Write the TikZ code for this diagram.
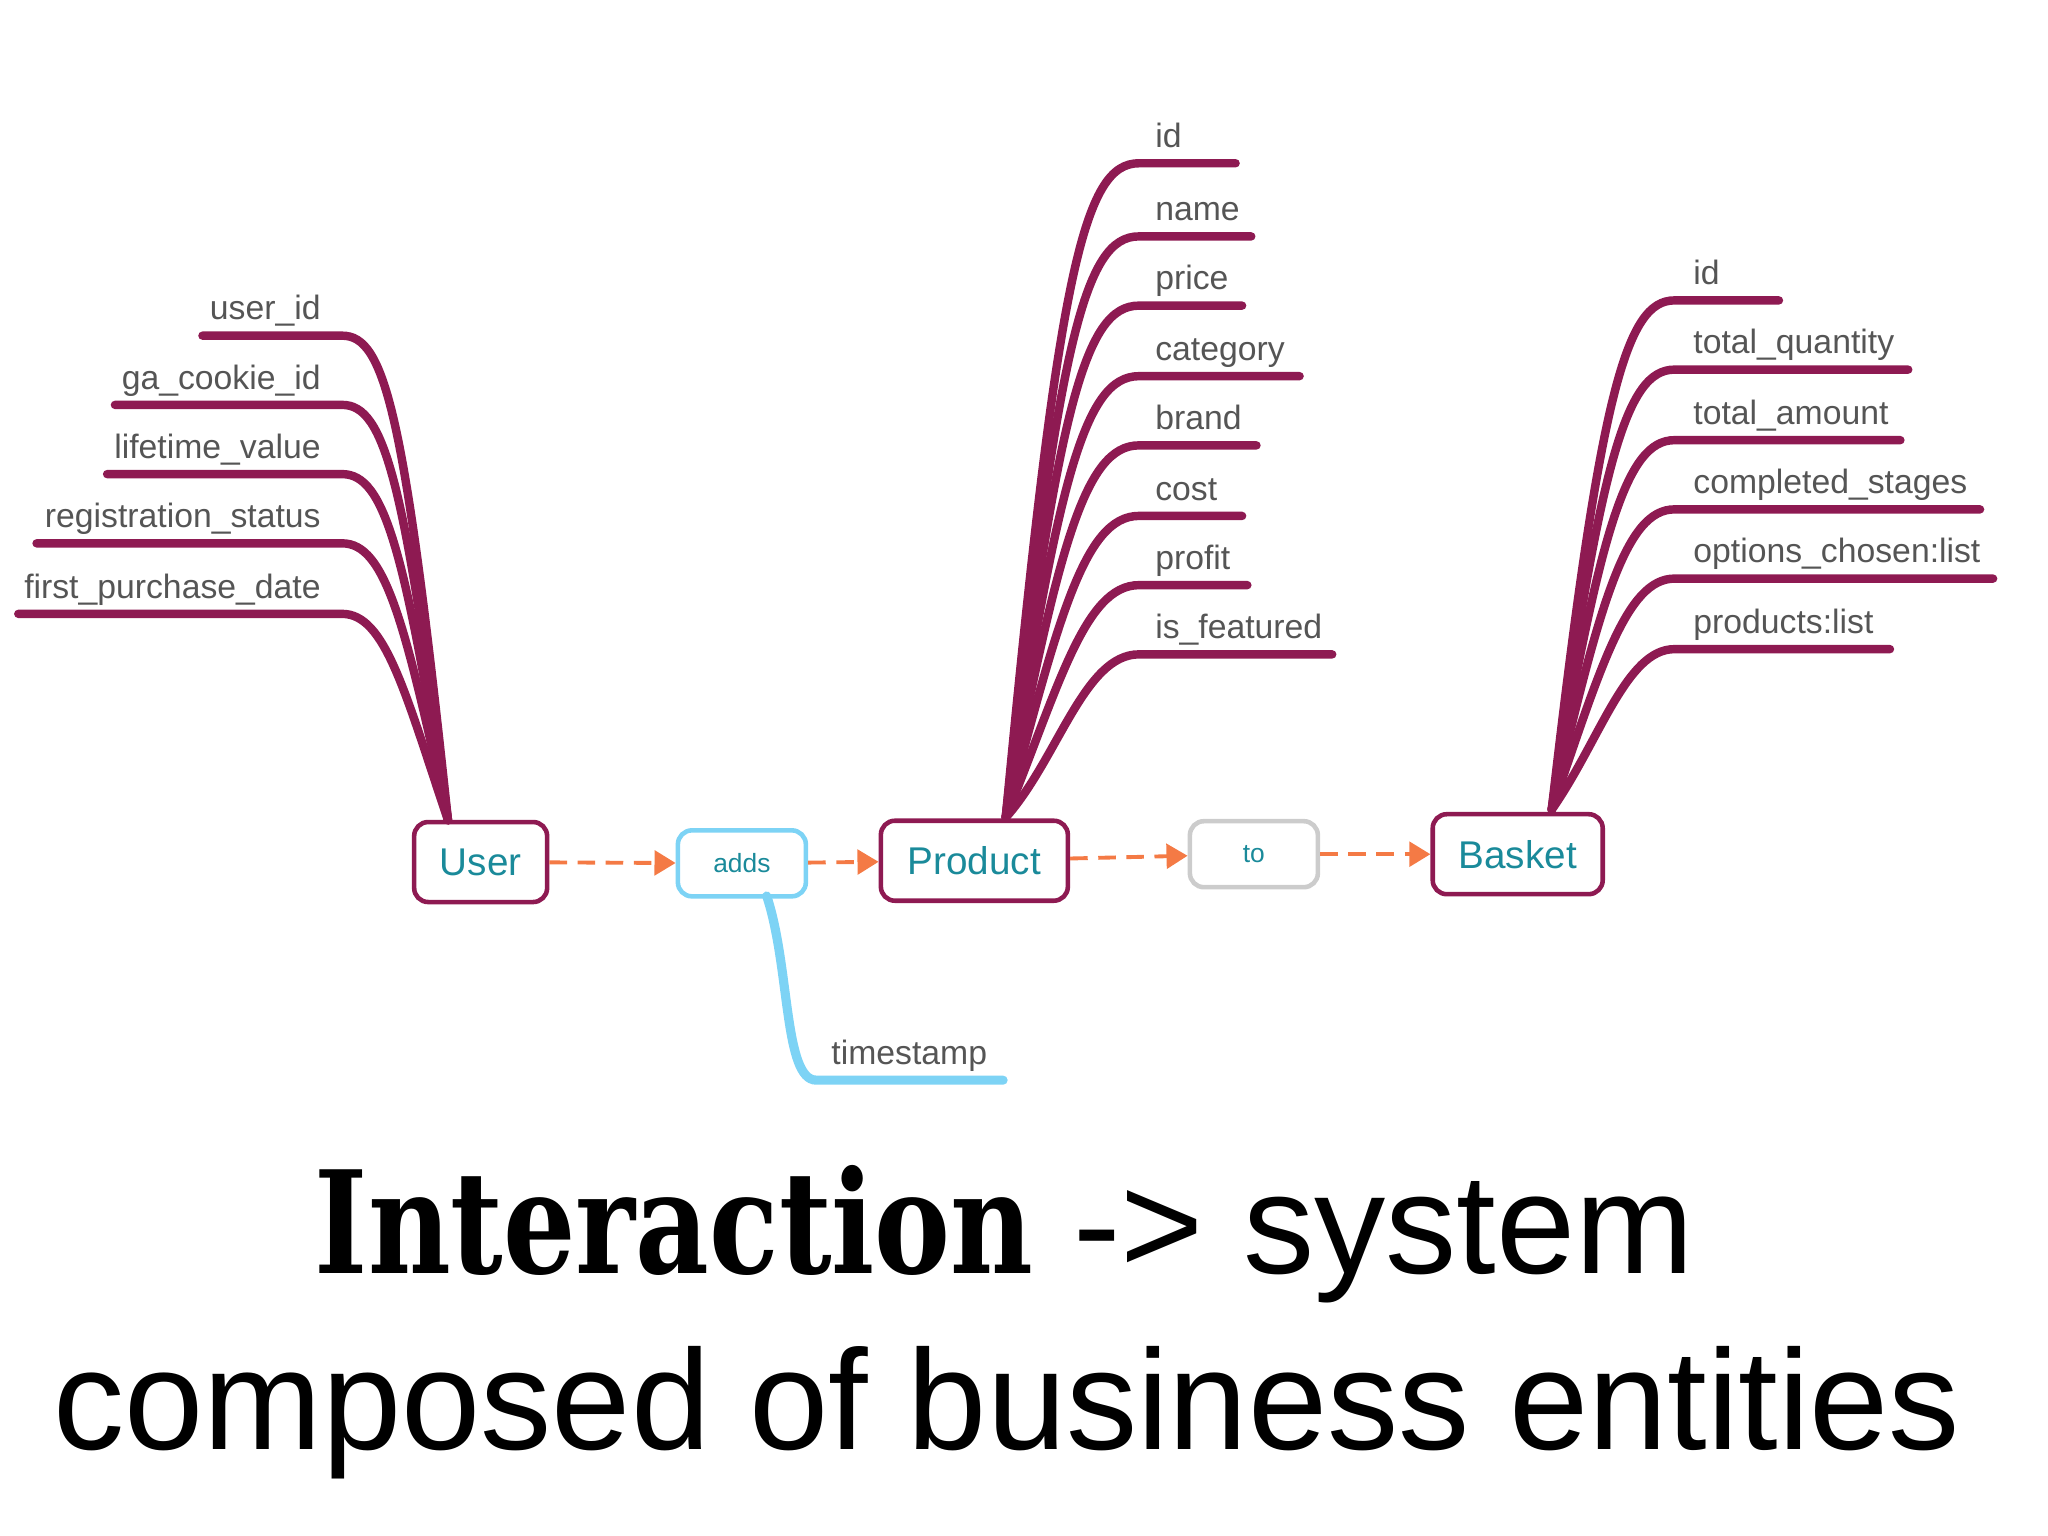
\documentclass[tikz,border=0pt]{standalone}
\usepackage{fontspec}
\usepackage{graphicx}
\setmainfont{Liberation Sans}
\newfontfamily\slab{DejaVu Serif}
\usetikzlibrary{arrows.meta}
\definecolor{mar}{HTML}{8E1A52}
\definecolor{teal}{HTML}{1A8A9A}
\definecolor{lb}{HTML}{7DD3F5}
\definecolor{org}{HTML}{F47A45}
\definecolor{gtxt}{HTML}{555555}
\begin{document}
\begin{tikzpicture}[x=0.01306cm,y=-0.01306cm,
  ent/.style={draw=mar,line width=1.3pt,rounded corners=4pt,text=teal,font=\fontsize{11}{13}\selectfont,minimum height=0.8cm},
  rel/.style={line width=1.3pt,rounded corners=4pt,text=teal,font=\fontsize{7.5}{9}\selectfont,minimum height=0.66cm,minimum width=1.28cm},
  fld/.style={draw=mar,line width=2.4pt,line cap=round},
  lbl/.style={text=gtxt,font=\fontsize{9.6}{11}\selectfont,inner sep=0pt},
  arr/.style={draw=org,line width=1.1pt,dash pattern=on 5pt off 3pt,-{Triangle[length=6pt,width=7pt]}}]
\useasboundingbox (0,0) rectangle (1568,1176);
% entities
\node[ent,minimum width=1.33cm] (user) at (368,660) {User};
\node[rel,draw=lb] (adds) at (568,661) {adds};
\node[ent,minimum width=1.87cm] (prod) at (746,659) {Product};
\node[rel,draw=gray!40] (to) at (960,654) {to};
\node[ent,minimum width=1.7cm] (bask) at (1162,654) {Basket};
\draw[arr] (user) -- (adds);
\draw[arr] (adds) -- (prod);
\draw[arr] (prod) -- (to);
\draw[arr] (to) -- (bask);
% user fields
\coordinate (us) at (343,628);
\foreach \t/\y/\l [count=\i] in {user\_id/257/155,ga\_cookie\_id/310/88,lifetime\_value/363/82,registration\_status/416/28,first\_purchase\_date/470/14}{
  \coordinate (ua\i) at (262,\y);
  \coordinate (ub\i) at (\l,\y);
  \draw[fld] (us) .. controls (310,\y+60) and (295,\y) .. (ua\i) -- (ub\i);
  \node[lbl,anchor=base east] (ul\i) at (246,\y-12) {\t};
}
% product fields
\coordinate (ps) at (770,626);
\foreach \t/\y/\r [count=\i] in {id/125/946,name/181/958,price/234/951,category/288/995,brand/341/962,cost/395/951,profit/448/955,is\_featured/501/1020}{
  \coordinate (pa\i) at (872,\y);
  \coordinate (pb\i) at (\r,\y);
  \draw[fld] (ps) .. controls (810,\y+80) and (830,\y) .. (pa\i) -- (pb\i);
  \node[lbl,anchor=base west] (pl\i) at (884,\y-12) {\t};
}
% basket fields
\coordinate (bs) at (1188,620);
\foreach \t/\y/\r [count=\i] in {id/230/1362,total\_quantity/283/1461,total\_amount/337/1455,completed\_stages/390/1516,options\_chosen:list/443/1526,products:list/497/1447}{
  \coordinate (ba\i) at (1282,\y);
  \coordinate (bb\i) at (\r,\y);
  \draw[fld] (bs) .. controls (1225,\y+70) and (1245,\y) .. (ba\i) -- (bb\i);
  \node[lbl,anchor=base west] (bl\i) at (1296,\y-12) {\t};
}
% timestamp
\coordinate (ts) at (587,686);
\coordinate (ta) at (625,827);
\coordinate (tb) at (768,827);
\draw[draw=lb,line width=2.6pt,line cap=round] (ts) .. controls (605,740) and (600,827) .. (ta) -- (tb);
\node[lbl,anchor=base west] (tl) at (636,815) {timestamp};
% title
\node[anchor=base,inner sep=0pt] (t1) at (769,975) {\fontsize{40.5}{48}\selectfont\scalebox{0.8}[1]{\slab\bfseries Interaction} -> system};
\node[anchor=base,inner sep=0pt] (t2) at (771,1110) {\fontsize{40.5}{48}\selectfont composed of business entities};
\end{tikzpicture}
\end{document}
